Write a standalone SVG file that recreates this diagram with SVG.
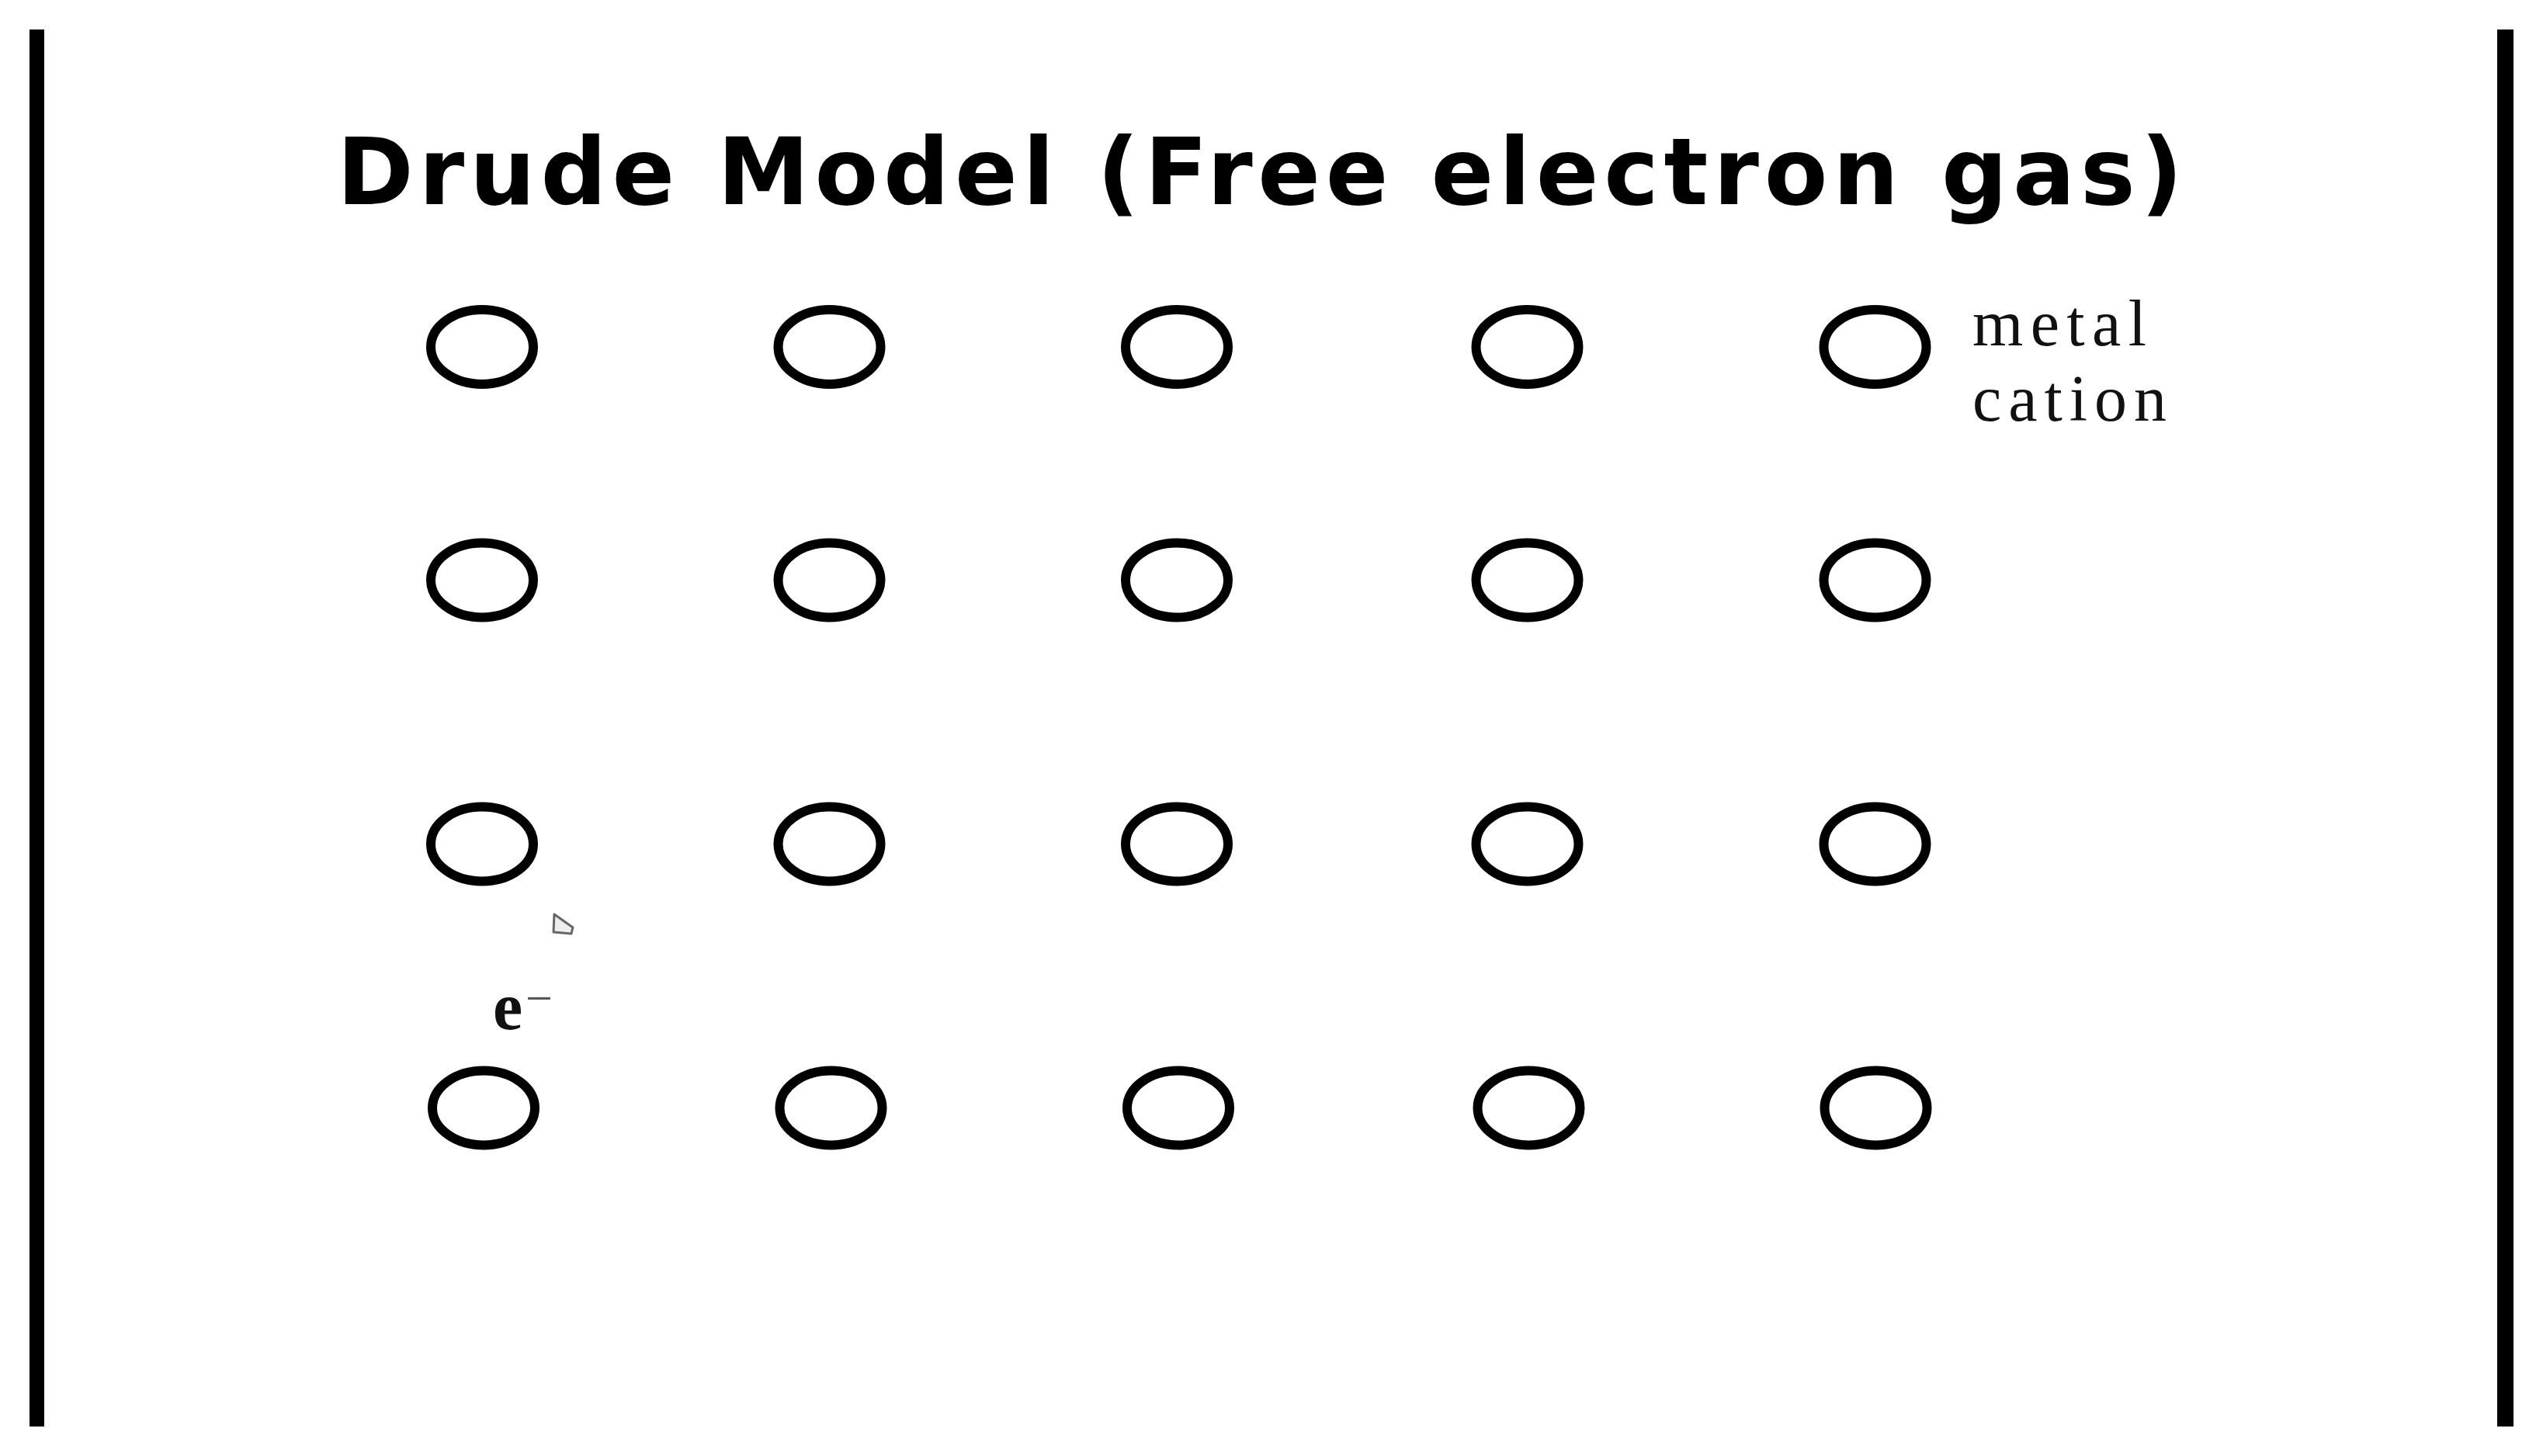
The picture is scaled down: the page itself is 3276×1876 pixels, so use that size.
<svg xmlns="http://www.w3.org/2000/svg" width="3276" height="1876" viewBox="0 0 3276 1876">
<style>
.bar{fill:#000}
.cation{fill:none;stroke:#000;stroke-width:12}
.title{font-family:"DejaVu Sans","Open Sans",sans-serif;font-weight:700;font-size:119px;fill:#000}
.label{font-family:"Liberation Serif","Times New Roman",serif;font-size:84px;fill:#111}
.elec{font-family:"Liberation Serif","Times New Roman",serif;font-weight:700;font-size:86px;fill:#111}
.minus{font-weight:400;font-size:62px;fill:#555}
.particle{fill:#eee;stroke:#666;stroke-width:3;stroke-linejoin:round}
</style>
<rect width="3276" height="1876" fill="#fff"/>
<g id="walls">
<rect class="bar" x="38" y="38" width="19" height="1800"/>
<rect class="bar" x="3217" y="38" width="21" height="1800"/>
</g>
<g id="title">
<text class="title" x="434" y="263" textLength="2378" lengthAdjust="spacing">Drude Model (Free electron gas)</text>
</g>
<g id="lattice">
<g id="r1">
<ellipse id="c11" class="cation" cx="621" cy="447" rx="66" ry="48"/>
<ellipse id="c12" class="cation" cx="1068.5" cy="447" rx="66" ry="48"/>
<ellipse id="c13" class="cation" cx="1516" cy="447" rx="66" ry="48"/>
<ellipse id="c14" class="cation" cx="1967.5" cy="447" rx="66" ry="48"/>
<ellipse id="c15" class="cation" cx="2415.5" cy="447" rx="66" ry="48"/>
</g>
<g id="r2">
<ellipse id="c21" class="cation" cx="621" cy="747.5" rx="66" ry="48"/>
<ellipse id="c22" class="cation" cx="1068.5" cy="747.5" rx="66" ry="48"/>
<ellipse id="c23" class="cation" cx="1516" cy="747.5" rx="66" ry="48"/>
<ellipse id="c24" class="cation" cx="1967.5" cy="747.5" rx="66" ry="48"/>
<ellipse id="c25" class="cation" cx="2415.5" cy="747.5" rx="66" ry="48"/>
</g>
<g id="r3">
<ellipse id="c31" class="cation" cx="621" cy="1087.5" rx="66" ry="48"/>
<ellipse id="c32" class="cation" cx="1068.5" cy="1087.5" rx="66" ry="48"/>
<ellipse id="c33" class="cation" cx="1516" cy="1087.5" rx="66" ry="48"/>
<ellipse id="c34" class="cation" cx="1967.5" cy="1087.5" rx="66" ry="48"/>
<ellipse id="c35" class="cation" cx="2415.5" cy="1087.5" rx="66" ry="48"/>
</g>
<g id="r4">
<ellipse id="c41" class="cation" cx="623" cy="1427.5" rx="66" ry="48"/>
<ellipse id="c42" class="cation" cx="1070.5" cy="1427.5" rx="66" ry="48"/>
<ellipse id="c43" class="cation" cx="1518" cy="1427.5" rx="66" ry="48"/>
<ellipse id="c44" class="cation" cx="1969.5" cy="1427.5" rx="66" ry="48"/>
<ellipse id="c45" class="cation" cx="2416.5" cy="1427.5" rx="66" ry="48"/>
</g>
</g>
<g id="legend">
<text class="label" x="2541" y="445" textLength="224" lengthAdjust="spacing">metal</text>
<text class="label" x="2541" y="542" textLength="250" lengthAdjust="spacing">cation</text>
</g>
<g id="electron">
<polygon class="particle" points="714,1178 738,1195 736,1203 713,1201"/>
<text class="elec" x="635" y="1326">e<tspan class="minus" x="677" y="1307">−</tspan></text>
</g>
<g id="connectors"></g>
</svg>
